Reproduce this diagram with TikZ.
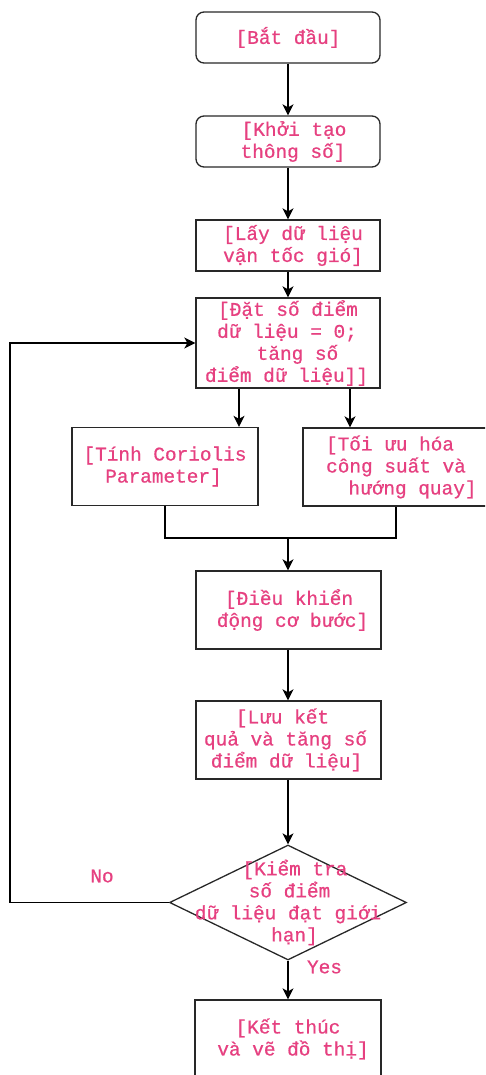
\documentclass[tikz,border=0pt]{standalone}
\usepackage{fontspec}
\newfontfamily\monofam[FakeBold=0.7]{Liberation Mono}
\usetikzlibrary{shapes.geometric,arrows.meta}
\definecolor{txtpink}{RGB}{230,64,128}
\definecolor{edgegray}{RGB}{40,40,40}
\newcommand\shl[2]{\makebox[0pt]{\hspace*{#1}\hspace*{#1}#2}}
\begin{document}
\begin{tikzpicture}[x=1pt,y=-1pt,
  txt/.style={font=\monofam\fontsize{19.4}{22}\selectfont, text=txtpink, align=center},
  box/.style={draw=edgegray, line width=1.3pt, fill=white, inner sep=0pt, txt},
  rbox/.style={box, rounded corners=8pt},
  arr/.style={draw=black, line width=1.4pt, -{Stealth[length=11pt,width=11pt,inset=3pt]}},
  ln/.style={draw=black, line width=1.4pt},
  lab/.style={txt, fill=white, inner sep=1pt}]
\useasboundingbox (0,0) rectangle (485,1075);
\clip (0,0) rectangle (485,1075);
\node[rbox, minimum width=184pt, minimum height=51pt] (start) at (288,37.5) {\shl{0pt}{[Bắt đầu]}};
\node[rbox, minimum width=184pt, minimum height=51pt] (init) at (288,141.5) {\shl{6pt}{[Khởi tạo}\\\shl{5pt}{thông số]}};
\node[box, minimum width=184pt, minimum height=51pt] (data) at (288,245.5) {\shl{5pt}{[Lấy dữ liệu}\\\shl{5pt}{vận tốc gió]}};
\node[box, minimum width=184pt, minimum height=90pt] (dat) at (288,343) {\shl{0pt}{[Đặt số điểm}\\\shl{-1pt}{dữ liệu = 0;}\\\shl{9.5pt}{tăng số}\\\shl{-1.5pt}{điểm dữ liệu]]}};
\node[box, minimum width=186pt, minimum height=78pt] (tinh) at (165,466.5) {\shl{0pt}{[Tính Coriolis}\\\shl{-1.5pt}{Parameter]}};
\node[box, minimum width=186pt, minimum height=78pt] (toi) at (396,467) {\shl{-6pt}{[Tối ưu hóa}\\\shl{0pt}{công suất và}\\\shl{16.5pt}{hướng quay]}};
\node[box, minimum width=185pt, minimum height=78pt] (dk) at (288.5,610) {\shl{0.5pt}{[Điều khiển}\\\shl{4pt}{động cơ bước]}};
\node[box, minimum width=185pt, minimum height=78pt] (luu) at (288.5,740) {\shl{-6pt}{[Lưu kết}\\\shl{-3pt}{quả và tăng số}\\\shl{-2pt}{điểm dữ liệu]}};
\node[diamond, draw=edgegray, line width=1.3pt, minimum width=237pt, minimum height=115pt, inner sep=0pt,
  label={[txt]center:\shl{7pt}{[Kiểm tra}\\\shl{1.5pt}{số điểm}\\\shl{0pt}{dữ liệu đạt giới}\\\shl{6.5pt}{hạn]}}] (dec) at (288,902.5) {};
\node[box, minimum width=186pt, minimum height=78pt] (end) at (288,1039) {\shl{0pt}{[Kết thúc}\\\shl{5pt}{và vẽ đồ thị]}};
\coordinate (merge) at (288,538);
\coordinate (loop) at (10,902.5);
\draw[arr] (start) -- (init);
\draw[arr] (init) -- (data);
\draw[arr] (data) -- (dat);
\draw[arr] ([xshift=-49pt]dat.south) -- ([xshift=-49pt]dat.south |- tinh.north);
\draw[arr] ([xshift=62pt]dat.south) -- ([xshift=62pt]dat.south |- toi.north);
\draw[ln] (tinh.south) |- (merge) -| (toi.south);
\draw[arr] (merge) -- (dk.north -| merge);
\draw[arr] (dk.south -| merge) -- (luu.north -| merge);
\draw[arr] (luu.south -| dec.north) -- (dec.north);
\draw[arr] (dec.south) -- (end.north -| dec.south);
\draw[arr] (dec.west) -- (loop) |- (dat.west);
\node[lab] (no) at (102,876) {No};
\node[lab] (yes) at (324.5,967) {Yes};
\end{tikzpicture}
\end{document}
